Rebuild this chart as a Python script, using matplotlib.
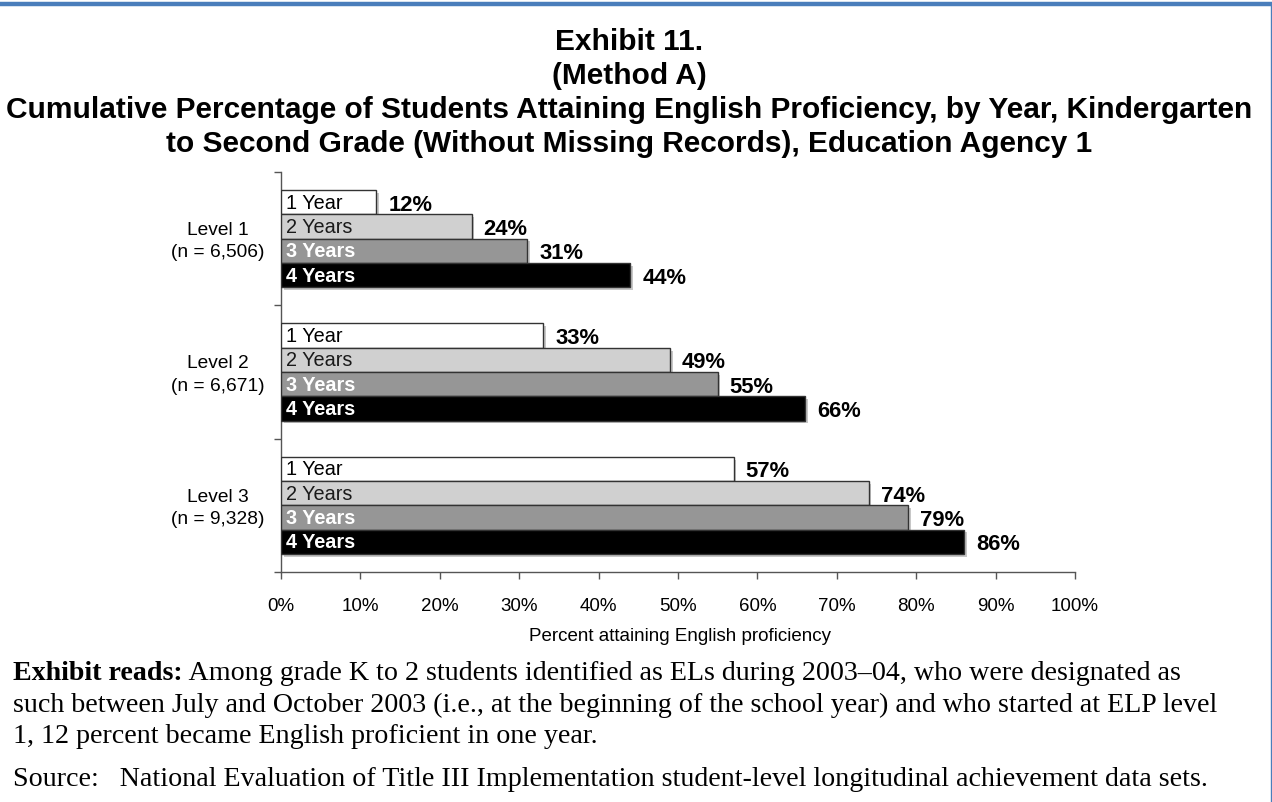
import matplotlib
matplotlib.use("Agg")
import matplotlib.pyplot as plt
import matplotlib.patheffects as pe
import numpy as np

# ---- data ----
levels = ["Level 1\n(n = 6,506)", "Level 2\n(n = 6,671)", "Level 3\n(n = 9,328)"]
series_names = ["1 Year", "2 Years", "3 Years", "4 Years"]
year1 = [12, 33, 57]
year2 = [24, 49, 74]
year3 = [31, 55, 79]
year4 = [44, 66, 86]
x_ticks = [0, 10, 20, 30, 40, 50, 60, 70, 80, 90, 100]
x_tick_labels = [f"{v}%" for v in x_ticks]

title_lines = [
    "Exhibit 11.",
    "(Method A)",
    "Cumulative Percentage of Students Attaining English Proficiency, by Year, Kindergarten",
    "to Second Grade (Without Missing Records), Education Agency 1",
]
x_label = "Percent attaining English proficiency"
reads_bold = "Exhibit reads:"
reads_lines = [
    " Among grade K to 2 students identified as ELs during 2003\u201304, who were designated as",
    "such between July and October 2003 (i.e., at the beginning of the school year) and who started at ELP level",
    "1, 12 percent became English proficient in one year.",
]
source_text = "Source:   National Evaluation of Title III Implementation student-level longitudinal achievement data sets."

# ---- style ----
W, H = 1272, 803
fills = ["#FFFFFF", "#D0D0D0", "#969696", "#000000"]
inner_colors = ["#000000", "#1a1a1a", "#FFFFFF", "#FFFFFF"]
inner_weights = ["normal", "normal", "bold", "bold"]
sans = "Liberation Sans"
serif = "Liberation Serif"

fig = plt.figure(figsize=(W / 100, H / 100), dpi=100)
fig.patch.set_facecolor("white")

def fy(px):
    return 1 - px / H

def fx(px):
    return px / W

# frame: blue top rule and right edge
fig.add_artist(plt.Line2D([0, 1], [fy(5), fy(5)], color="#4A7EBB", lw=3.2,
                          transform=fig.transFigure))
fig.add_artist(plt.Line2D([fx(1270.5), fx(1270.5)], [fy(5), 0], color="#4A7EBB", lw=1.0,
                          transform=fig.transFigure))

# title
title_baselines = [50, 84, 118, 152]
for line, yb in zip(title_lines, title_baselines):
    fig.text(fx(629), fy(yb), line, ha="center", va="baseline",
             fontsize=21.5, fontweight="bold", family=sans)

# axes
ax_left, ax_right, ax_top, ax_bottom = 281, 1075, 173, 573
ax = fig.add_axes([fx(ax_left), fy(ax_bottom), fx(ax_right - ax_left), (ax_bottom - ax_top) / H])

series = [year1, year2, year3, year4]
n_groups = len(levels)
bar_h = 0.182
y_idx = np.arange(n_groups)
shadow = [pe.SimplePatchShadow(offset=(2.0, -2.0), shadow_rgbFace="#000000", alpha=0.22), pe.Normal()]

for k, (vals, name) in enumerate(zip(series, series_names)):
    ypos = y_idx + (k - 1.5) * bar_h
    bars = ax.barh(ypos, vals, height=bar_h, color=fills[k], edgecolor="#333333",
                   linewidth=1.0, zorder=3)
    for b in bars:
        b.set_path_effects(shadow)
    for yv, v in zip(ypos, vals):
        ax.annotate(name, xy=(0, yv), xytext=(5, 0), textcoords="offset pixels",
                    ha="left", va="center", fontsize=14.3, color=inner_colors[k],
                    fontweight=inner_weights[k], family=sans, zorder=4)
        ax.annotate(f"{v}%", xy=(v, yv), xytext=(12, -2), textcoords="offset pixels",
                    ha="left", va="center", fontsize=15.8, fontweight="bold",
                    family=sans, color="black", zorder=4)

ax.set_xlim(0, 100)
ax.set_ylim(n_groups - 0.5, -0.5)
ax.set_xticks(x_ticks)
ax.set_xticklabels(x_tick_labels, fontsize=13.5, family=sans)
ax.set_yticks(np.arange(n_groups + 1) - 0.5)
ax.set_yticklabels([])
ax.tick_params(axis="x", direction="out", length=5, width=1, color="#555555", pad=13)
ax.tick_params(axis="y", direction="out", length=5, width=1, color="#555555")
for s in ["top", "right"]:
    ax.spines[s].set_visible(False)
for s in ["left", "bottom"]:
    ax.spines[s].set_color("#555555")
    ax.spines[s].set_linewidth(1)

for i, lab in enumerate(levels):
    ax.annotate(lab, xy=(0, i), xycoords=("axes fraction", "data"),
                xytext=(-63, -2), textcoords="offset pixels",
                ha="center", va="center", fontsize=13.8, family=sans,
                linespacing=1.4)

fig.text(fx(680), fy(637), x_label, ha="center", va="center", fontsize=13.5, family=sans)

# exhibit reads paragraph
body_size = 20.2
t_bold = fig.text(fx(13), fy(680), reads_bold, ha="left", va="baseline",
                  fontsize=body_size, fontweight="bold", family=serif)
fig.canvas.draw()
r = fig.canvas.get_renderer()
bb = t_bold.get_window_extent(renderer=r)
fig.text(bb.x1 / W, fy(680), reads_lines[0], ha="left", va="baseline",
         fontsize=body_size, family=serif)
for line, yb in zip(reads_lines[1:], [712, 743]):
    fig.text(fx(13), fy(yb), line, ha="left", va="baseline", fontsize=body_size, family=serif)
fig.text(fx(13), fy(786), source_text, ha="left", va="baseline", fontsize=body_size, family=serif)

fig.savefig("out.png", dpi=100, facecolor="white")
